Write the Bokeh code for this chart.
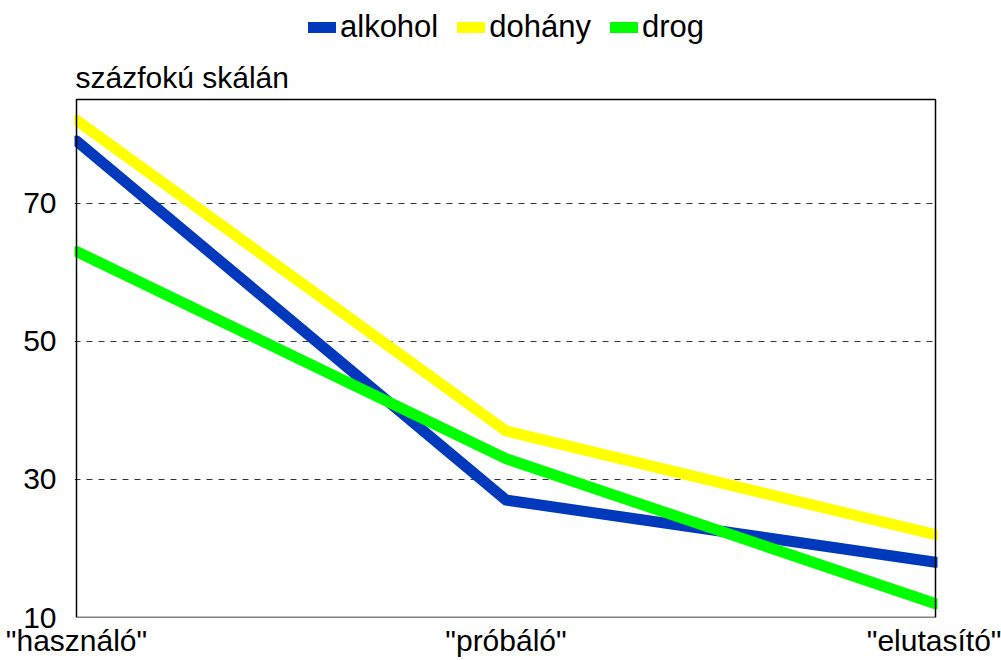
from bokeh.plotting import figure
from bokeh.models import Range1d, FixedTicker, Legend, LegendItem, Label, BoxAnnotation
from bokeh.embed import file_html
from bokeh.resources import INLINE

# ---- data ----
categories = ['"használó"', '"próbáló"', '"elutasító"']
series_names = ["alkohol", "dohány", "drog"]
alkohol = [79, 27, 18]
dohany = [82, 37, 22]
drog = [63, 33, 12]
y_ticks = [10, 30, 50, 70]
y_title = "százfokú skálán"
Y_MIN, Y_MAX = 10, 85

colors = ["#0039BB", "#FFFF00", "#00FF00"]
FONT = "Liberation Sans"
FS = "30px"

xs = list(range(len(categories)))

# layout (pixels)
BOX_LEFT, BOX_RIGHT, BOX_TOP, BOX_BOTTOM = 76, 935, 99, 617
PAD = 2
FRAME_W = BOX_RIGHT - BOX_LEFT + 2 * PAD
FRAME_H = BOX_BOTTOM  # frame reaches the top of the canvas; legend and title live inside it
px_per_x = (BOX_RIGHT - BOX_LEFT) / (len(categories) - 1)
px_per_y = (BOX_BOTTOM - BOX_TOP) / (Y_MAX - Y_MIN)

p = figure(frame_width=FRAME_W, frame_height=FRAME_H,
           x_range=Range1d(-PAD / px_per_x, len(categories) - 1 + PAD / px_per_x),
           y_range=Range1d(Y_MIN, Y_MAX + BOX_TOP / px_per_y),
           output_backend="svg", toolbar_location=None, title=None,
           min_border_left=BOX_LEFT - PAD, min_border_right=1001 - BOX_RIGHT - PAD,
           min_border_top=0, min_border_bottom=0)

renderers = []
for vals, c in zip([alkohol, dohany, drog], colors):
    r = p.line(xs, vals, line_width=11, line_color=c, line_cap="round", line_join="miter")
    renderers.append(r)

# plot box
p.add_layout(BoxAnnotation(left=0, right=len(categories) - 1, bottom=Y_MIN, top=Y_MAX,
                           fill_alpha=0, line_color="black", line_width=1.5, line_alpha=1))

# axes
p.xaxis.ticker = FixedTicker(ticks=xs)
p.xaxis.major_label_overrides = {i: c for i, c in zip(xs, categories)}
p.yaxis.ticker = FixedTicker(ticks=y_ticks)
for ax in (p.xaxis[0], p.yaxis[0]):
    ax.axis_line_color = None
    ax.major_tick_in = 0
    ax.major_tick_out = 0
    ax.minor_tick_in = 0
    ax.minor_tick_out = 0
    ax.major_label_text_font = FONT
    ax.major_label_text_font_size = FS
    ax.major_label_text_color = "black"
p.yaxis.major_label_standoff = 18
p.xaxis.major_label_standoff = 6

# grid
p.xgrid.visible = False
p.ygrid.ticker = FixedTicker(ticks=[t for t in y_ticks if t > Y_MIN])
p.ygrid.grid_line_color = "#333333"
p.ygrid.grid_line_dash = "6 6"
p.ygrid.grid_line_width = 1

p.outline_line_color = None

# y-axis caption above the box
p.add_layout(Label(x=0, y=Y_MAX + 22 / px_per_y, text=y_title, x_offset=-1,
                   text_font=FONT, text_font_size=FS, text_color="black",
                   text_align="left", text_baseline="alphabetic"))

legend = Legend(items=[LegendItem(label=n, renderers=[r]) for n, r in zip(series_names, renderers)],
                orientation="horizontal", location=(308 - (BOX_LEFT - PAD), FRAME_H - 45),
                label_text_font=FONT, label_text_font_size="31px", label_text_color="black",
                glyph_width=28, glyph_height=20, label_standoff=4, spacing=19,
                padding=0, margin=0, border_line_color=None, background_fill_alpha=0)
p.add_layout(legend, "center")

p.background_fill_color = "white"
p.border_fill_color = "white"

open("out.html", "w").write(file_html(p, INLINE))
